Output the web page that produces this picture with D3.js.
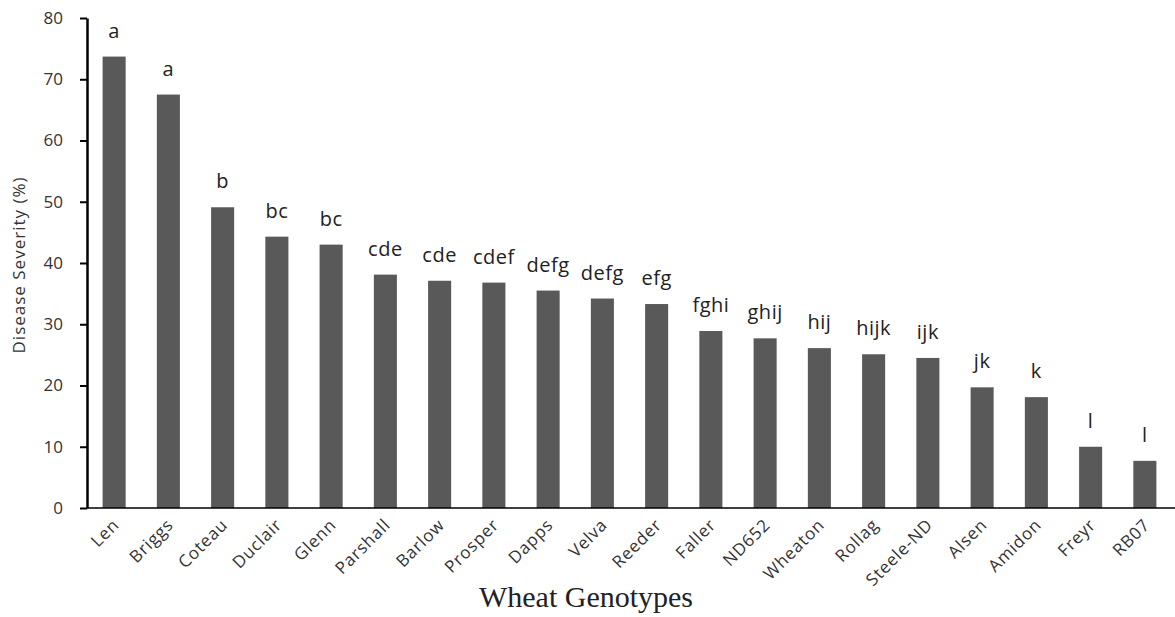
<!DOCTYPE html>
<html><head><meta charset="utf-8">
<script src="https://cdn.jsdelivr.net/npm/d3@7"></script>
<style>body{margin:0;background:#fff}svg{display:block}</style>
</head><body>
<svg id="c" width="1175" height="617"></svg>
<script>
const categories = ["Len","Briggs","Coteau","Duclair","Glenn","Parshall","Barlow","Prosper","Dapps","Velva","Reeder","Faller","ND652","Wheaton","Rollag","Steele-ND","Alsen","Amidon","Freyr","RB07"];
const severity = [73.7,67.5,49.1,44.3,43.0,38.1,37.1,36.8,35.5,34.2,33.3,28.9,27.7,26.1,25.1,24.5,19.7,18.1,10.0,7.7];
const groups = ["a","a","b","bc","bc","cde","cde","cdef","defg","defg","efg","fghi","ghij","hij","hijk","ijk","jk","k","l","l"];
const yTicks = [0,10,20,30,40,50,60,70,80];

(function(){
const svg = d3.select("#c");
const mL = 87, mR = 1172, mT = 18, mB = 508;
const x = d3.scaleBand().domain(categories).range([mL, mR]).paddingInner(0.575).paddingOuter(0.2875);
const y = d3.scaleLinear().domain([0, 80]).range([mB, mT]);

svg.append("g").selectAll("rect").data(categories).join("rect")
  .attr("x", d => x(d)).attr("width", x.bandwidth())
  .attr("y", (d,i) => y(severity[i])).attr("height", (d,i) => mB - y(severity[i]))
  .attr("fill", "#595959");

svg.append("g").selectAll("text").data(categories).join("text")
  .attr("x", d => x(d) + x.bandwidth()/2)
  .attr("y", (d,i) => y(severity[i]) - 19)
  .attr("text-anchor", "middle")
  .attr("font-family", "Open Sans, sans-serif").attr("font-size", 20).attr("letter-spacing", 0.5).attr("fill", "#222")
  .text((d,i) => groups[i]);

const ya = svg.append("g").attr("transform", `translate(${mL},0)`)
  .call(d3.axisLeft(y).tickValues(yTicks).tickSize(7).tickSizeOuter(0).tickPadding(17));
ya.select(".domain").attr("stroke", "#000").attr("stroke-width", 2.5);
ya.selectAll(".tick line").attr("stroke", "#000").attr("stroke-width", 2);
ya.selectAll("text").attr("font-family", "Open Sans, sans-serif").attr("font-size", 17).attr("fill", "#333");

const xa = svg.append("g").attr("transform", `translate(0,${mB})`)
  .call(d3.axisBottom(x).tickSize(0).tickSizeOuter(0).tickPadding(0));
xa.select(".domain").attr("stroke", "#000").attr("stroke-width", 1.5).attr("d", `M${mL},0H1175`);
xa.selectAll("text")
  .attr("font-family", "Open Sans, sans-serif").attr("font-size", 17).attr("letter-spacing", 0.8).attr("fill", "#333")
  .attr("text-anchor", "end").attr("dy", null).attr("y", 0)
  .attr("transform", "translate(6,18) rotate(-45)");

svg.append("text").attr("transform", `translate(25,265) rotate(-90)`)
  .attr("text-anchor", "middle").attr("font-family", "Open Sans, sans-serif").attr("font-size", 17).attr("letter-spacing", 1).attr("fill", "#333")
  .text("Disease Severity (%)");

svg.append("text").attr("x", 586).attr("y", 607).attr("text-anchor", "middle")
  .attr("font-family", "Liberation Serif, Times New Roman, serif").attr("font-size", 30).attr("fill", "#222")
  .text("Wheat Genotypes");
})();
</script>
</body></html>
